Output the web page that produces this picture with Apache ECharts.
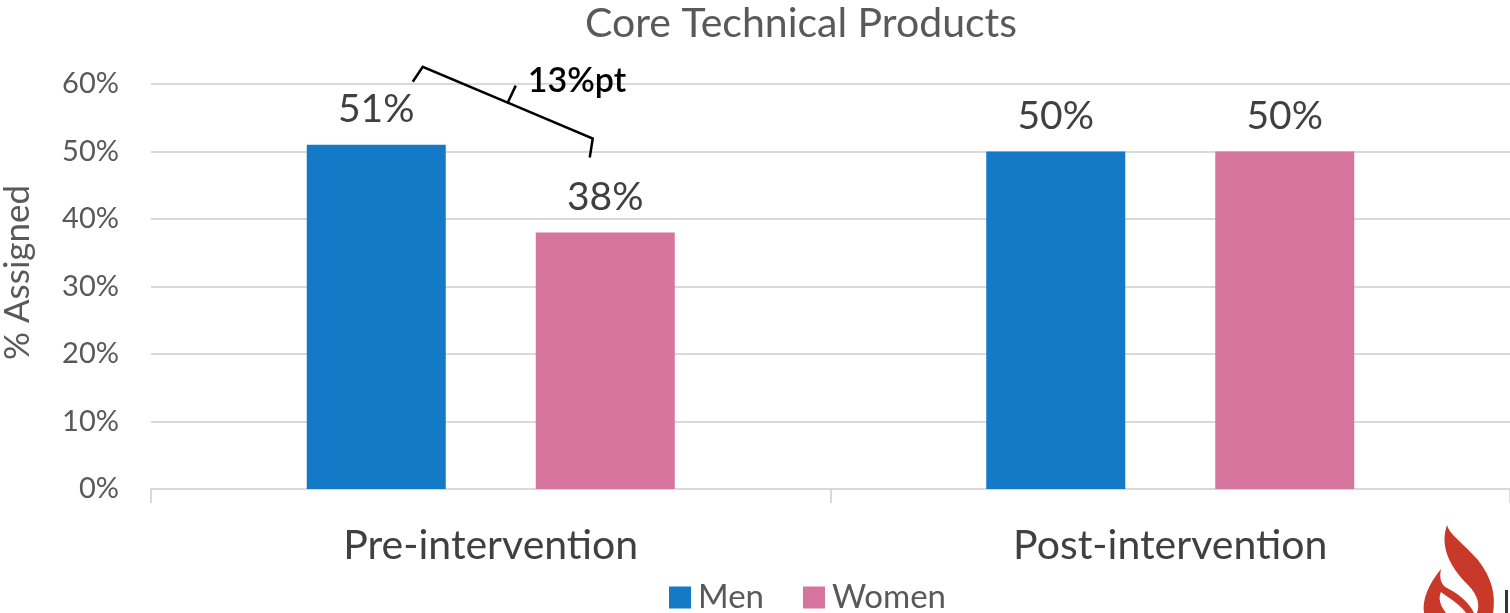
<!DOCTYPE html>
<html><head><meta charset="utf-8">
<script src="https://cdn.jsdelivr.net/npm/echarts@6/dist/echarts.min.js"></script>
<style>html,body{margin:0;padding:0;background:#fff}#c{width:1510px;height:613px}</style>
</head><body><div id="c"></div>
<script>
const categories = ["Pre-intervention", "Post-intervention"];
const men = [51, 50];
const women = [38, 50];
const yTicks = [0, 10, 20, 30, 40, 50, 60];
const gapLabel = "13%pt";

const FONT = "'Source Sans Pro', Lato, 'Noto Sans', sans-serif";
const BAR_W = 139, BAR_GAP = 90;
const chart = echarts.init(document.getElementById('c'));
const labelStyle = {show: true, position: 'top', distance: 16, formatter: '{c}%', fontSize: 39, color: '#404040', fontFamily: FONT};
chart.setOption({
  animation: false,
  textStyle: {fontFamily: FONT},
  title: {text: 'Core Technical Products', left: 580, top: -2,
    textStyle: {fontSize: 41, fontWeight: 'normal', color: '#595959', fontFamily: FONT}},
  grid: {left: 151, right: 0, top: 84, bottom: 124, outerBoundsMode: 'none', containLabel: false},
  legend: {bottom: -6, left: 664, itemWidth: 22, itemHeight: 22, itemGap: 39,
    icon: 'rect', textStyle: {fontSize: 33, color: '#595959', fontFamily: FONT, padding: [0, 0, 0, 2]},
    data: ['Men', 'Women']},
  xAxis: {type: 'category', data: categories,
    axisLine: {lineStyle: {color: '#d9d9d9', width: 2}},
    axisTick: {show: true, length: 14, lineStyle: {color: '#d9d9d9', width: 2}},
    axisLabel: {fontSize: 41, color: '#404040', margin: 36, fontFamily: FONT}},
  yAxis: {type: 'value', min: yTicks[0], max: yTicks[yTicks.length - 1], interval: 10,
    name: '% Assigned', nameLocation: 'middle', nameRotate: 90, nameGap: 116,
    nameTextStyle: {fontSize: 35, color: '#595959', fontFamily: FONT, padding: [0, 0, 0, 28]},
    axisLabel: {formatter: '{value}%', fontSize: 29, color: '#595959', margin: 32, fontFamily: FONT},
    axisLine: {show: false}, axisTick: {show: false},
    splitLine: {lineStyle: {color: '#d9d9d9', width: 2}}},
  series: [
    {name: 'Men', type: 'bar', data: men, barWidth: BAR_W, barGap: (BAR_GAP / BAR_W * 100) + '%',
      itemStyle: {color: '#1479c7'}, label: labelStyle},
    {name: 'Women', type: 'bar', data: women, barWidth: BAR_W,
      itemStyle: {color: '#d5759e'}, label: labelStyle}
  ]
});

// bracket annotation anchored to the pre-intervention bar tops
const cx = chart.convertToPixel({xAxisIndex: 0}, categories[0]);
const off = (BAR_W + BAR_GAP) / 2;
const pM = [cx - off, chart.convertToPixel({yAxisIndex: 0}, men[0])];
const pW = [cx + off, chart.convertToPixel({yAxisIndex: 0}, women[0])];
const a = [pM[0] + 36.5, pM[1] - 63];
const b = [pM[0] + 46.5, pM[1] - 78];
const d = [pW[0] - 12.5, pW[1] - 94];
const e = [pW[0] - 15.5, pW[1] - 75];
const mid = [(b[0] + d[0]) / 2, (b[1] + d[1]) / 2];
const cusp = [mid[0] + 8, mid[1] - 17];

const flameSvg = '<svg xmlns="http://www.w3.org/2000/svg" width="90" height="90" viewBox="1420 523 90 90">' +
  '<path fill="#c9392a" d="M1447,525 C1440,545 1448,565 1468,585 C1478,595 1480,605 1477,613 L1493,613 C1496,595 1492,578 1478,560 C1462,542 1450,535 1447,525 Z"/>' +
  '<path fill="#c9392a" d="M1441,569 C1428,585 1422,600 1424,613 L1446,613 C1440,605 1438,598 1441,592 C1452,600 1462,606 1466,613 L1474,613 C1468,600 1455,592 1447,588 C1441,585 1439,578 1441,569 Z"/>' +
  '</svg>';

chart.setOption({
  graphic: [
    {type: 'polyline', shape: {points: [a, b, mid, cusp]},
      style: {stroke: '#000', lineWidth: 2.5, fill: null}},
    {type: 'polyline', shape: {points: [mid, d, e]},
      style: {stroke: '#000', lineWidth: 2.5, fill: null}},
    {type: 'text', x: cusp[0] + 12, y: cusp[1] - 5,
      style: {text: gapLabel, fontSize: 34, fontWeight: 600, fill: '#000', fontFamily: FONT, textVerticalAlign: 'middle'}},
    {type: 'image', style: {image: 'data:image/svg+xml;charset=utf-8,' + encodeURIComponent(flameSvg), x: 1420, y: 523, width: 90, height: 90}},
    {type: 'rect', shape: {x: 1505, y: 590, width: 3, height: 23}, style: {fill: '#333'}}
  ]
});
</script></body></html>
